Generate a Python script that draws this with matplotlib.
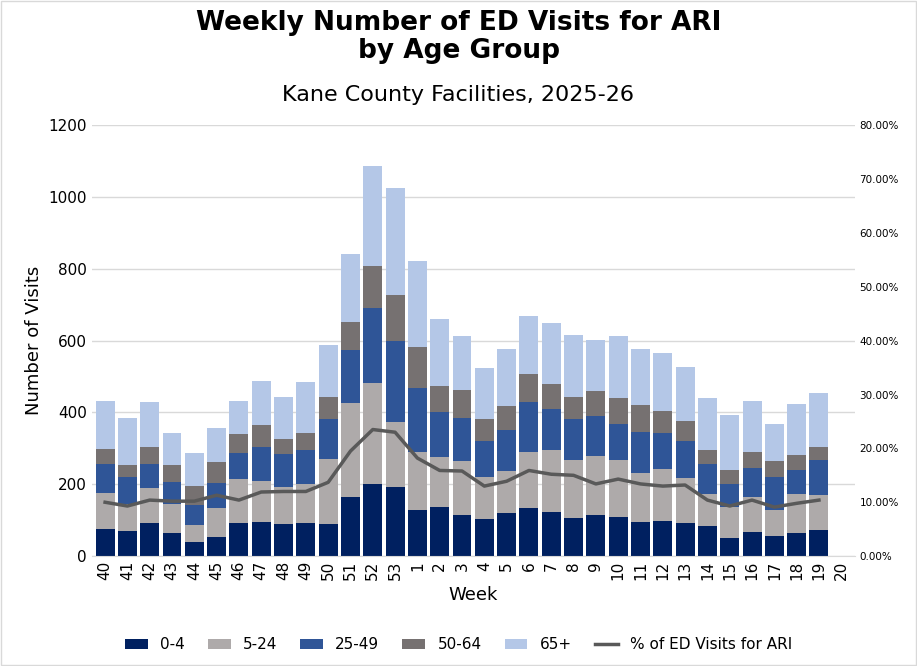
import matplotlib
matplotlib.use('Agg')
import matplotlib.pyplot as plt
import numpy as np
from matplotlib.ticker import PercentFormatter

weeks = [str(w) for w in list(range(40, 54)) + list(range(1, 21))]

cum_04 = [75, 70, 92, 64, 39, 53, 92, 95, 89, 92, 89, 164, 200, 192, 128, 136, 114,
          103, 120, 133, 122, 106, 114, 108, 95, 97, 92, 83, 50, 67, 56, 64, 72]
cum_524 = [175, 145, 189, 145, 86, 133, 214, 209, 192, 200, 270, 425, 481, 373, 289, 275, 264,
           220, 236, 289, 295, 267, 278, 267, 231, 242, 217, 172, 136, 164, 128, 172, 170]
cum_2549 = [256, 220, 256, 206, 142, 203, 286, 303, 284, 295, 381, 573, 692, 598, 467, 400, 386,
            320, 350, 428, 409, 381, 389, 367, 345, 342, 320, 256, 200, 245, 220, 239, 267]
cum_5064 = [297, 253, 303, 253, 195, 261, 339, 364, 325, 342, 442, 651, 809, 726, 581, 475, 462,
            381, 417, 506, 478, 442, 459, 439, 420, 403, 375, 295, 239, 289, 264, 281, 303]
cum_65 = [431, 386, 428, 342, 286, 356, 431, 489, 442, 484, 589, 842, 1087, 1026, 823, 659, 612,
          525, 578, 670, 648, 617, 603, 612, 576, 567, 528, 439, 392, 431, 367, 423, 453]
pct_ari = [10.0, 9.3, 10.4, 10.2, 10.2, 11.3, 10.4, 11.9, 12.0, 12.0, 13.7, 19.5, 23.5, 23.0,
           18.2, 15.9, 15.8, 13.0, 13.9, 15.9, 15.2, 15.0, 13.4, 14.3, 13.4, 13.0, 13.2, 10.4,
           9.3, 10.4, 9.1, 9.8, 10.4]

cums = [np.array(c) for c in (cum_04, cum_524, cum_2549, cum_5064, cum_65)]
labels = ['0-4', '5-24', '25-49', '50-64', '65+']
colors = ['#002060', '#AEAAAA', '#2F5597', '#767171', '#B4C7E7']

fig = plt.figure(figsize=(9.17, 6.66), dpi=100)
fig.patches.append(plt.Rectangle((0.001, 0.001), 0.998, 0.998, transform=fig.transFigure,
                                 fill=False, edgecolor='#D9D9D9', lw=1))
ax = fig.add_axes([0.1, 0.165, 0.832, 0.647])
x = np.arange(len(cum_04))
prev = np.zeros(len(x))
handles = []
for c, lab, col in zip(cums, labels, colors):
    h = ax.bar(x, c - prev, bottom=prev, width=0.85, color=col, label=lab, zorder=2)
    handles.append(h)
    prev = c

ax.set_xlim(-0.6, len(weeks) - 0.4)
ax.set_ylim(0, 1200)
ax.set_yticks(range(0, 1201, 200))
ax.set_xticks(range(len(weeks)))
ax.set_xticklabels(weeks, rotation=90, fontsize=11)
ax.tick_params(axis='y', labelsize=11, length=0)
ax.tick_params(axis='x', length=0)
ax.grid(axis='y', color='#D9D9D9', lw=1, zorder=0)
for s in ['top', 'right', 'left']:
    ax.spines[s].set_visible(False)
ax.spines['bottom'].set_color('#D9D9D9')
ax.set_xlabel('Week', fontsize=13)
ax.set_ylabel('Number of Visits', fontsize=13)

ax2 = ax.twinx()
ln, = ax2.plot(x, pct_ari, color='#595959', lw=2.5, label='% of ED Visits for ARI', zorder=3)
ax2.set_ylim(0, 80)
ax2.set_yticks(range(0, 81, 10))
ax2.yaxis.set_major_formatter(PercentFormatter(decimals=2))
ax2.tick_params(axis='y', labelsize=7.5, length=0)
for s in ax2.spines.values():
    s.set_visible(False)

fig.text(0.5, 0.945, 'Weekly Number of ED Visits for ARI\nby Age Group', ha='center', va='center',
         fontsize=19, fontweight='bold', linespacing=1.1)
fig.text(0.5, 0.858, 'Kane County Facilities, 2025-26', ha='center', va='center', fontsize=16)

fig.legend(handles + [ln], labels + ['% of ED Visits for ARI'], loc='lower center',
           bbox_to_anchor=(0.5, 0.0), ncol=6, frameon=False, fontsize=11,
           handlelength=1.5, columnspacing=1.5)

fig.savefig('out.png', dpi=100)
